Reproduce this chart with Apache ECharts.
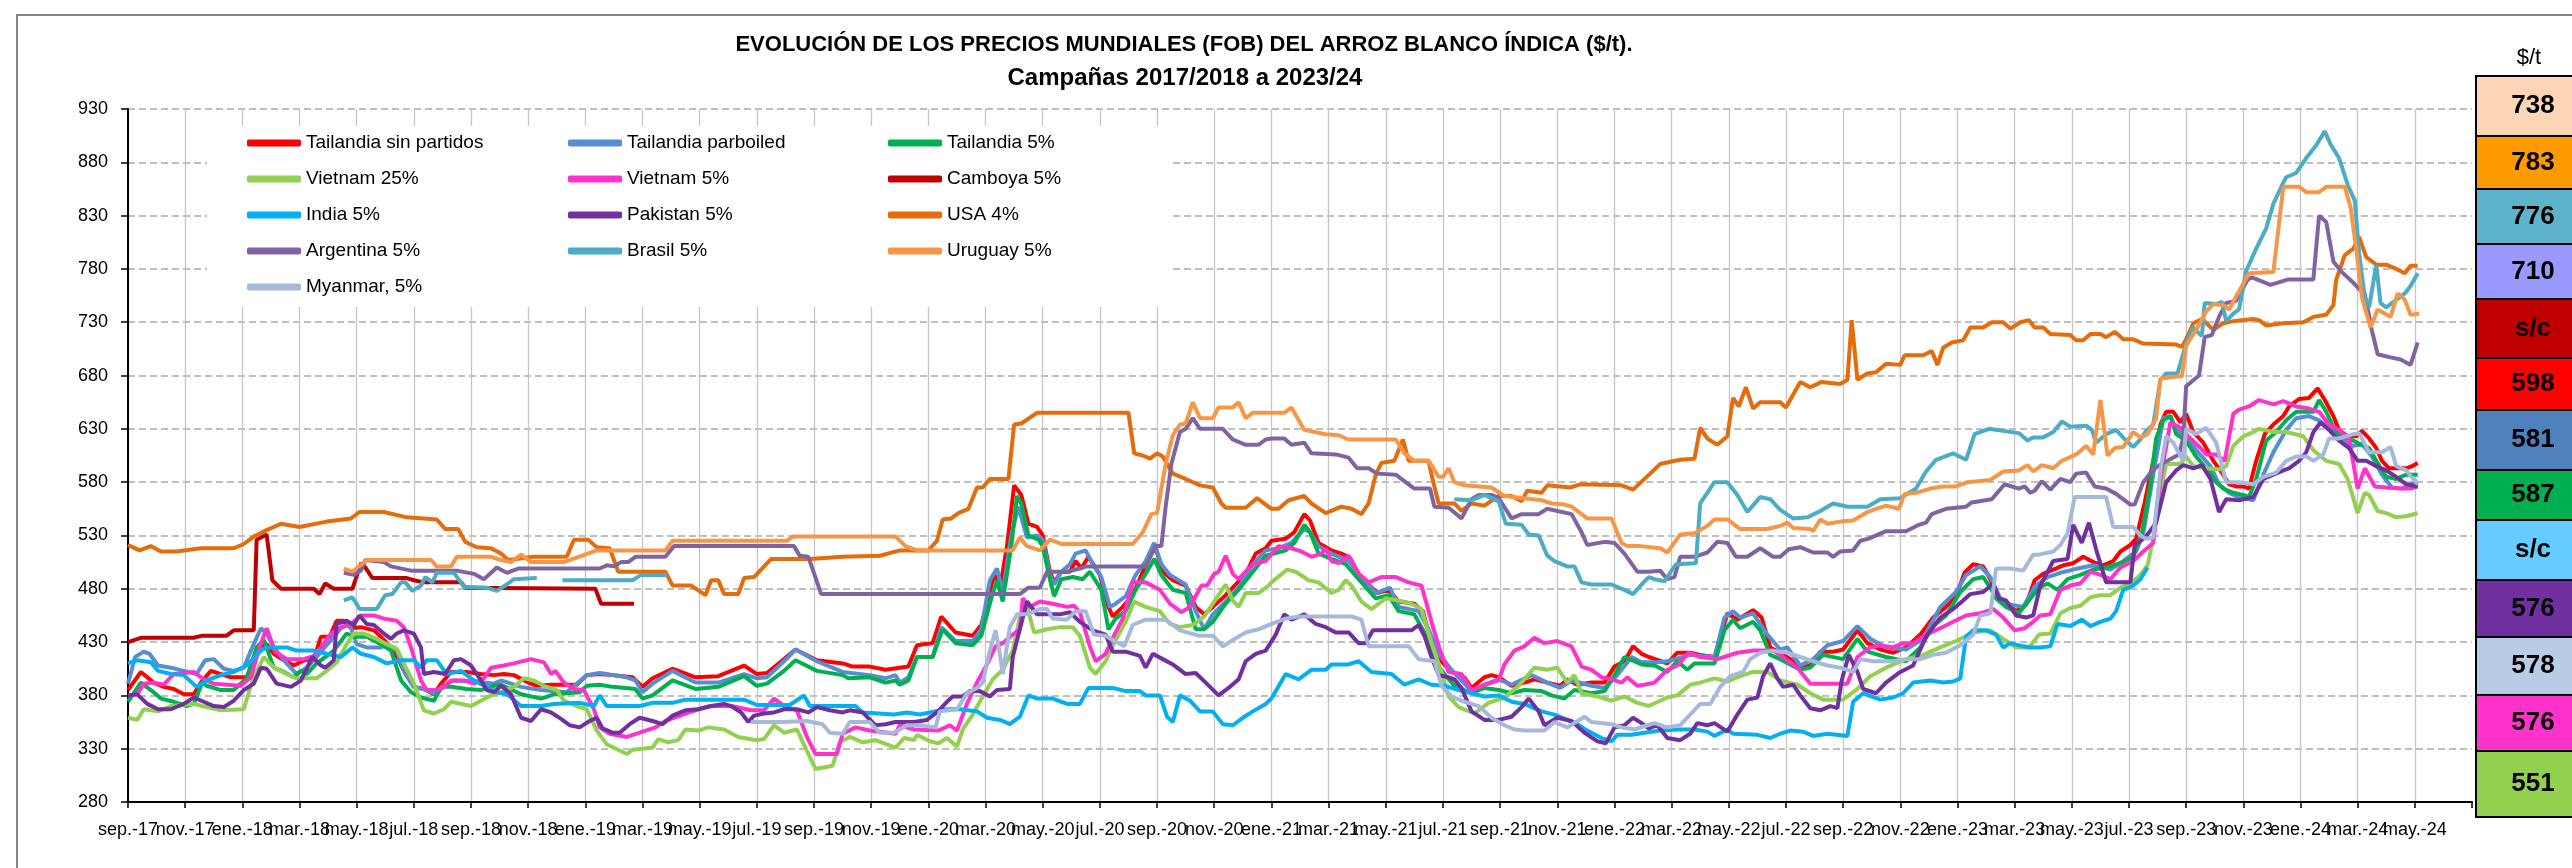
<!DOCTYPE html>
<html><head><meta charset="utf-8">
<script src="https://cdn.jsdelivr.net/npm/echarts/dist/echarts.min.js"></script>
<style>html,body{margin:0;padding:0;background:#fff}#c{width:2572px;height:868px}</style>
</head><body><div id="c"></div>
<script>
// x = half-month index counted from 1 Sep 2017 (2 per month)
const tickLabels = ['sep.-17','nov.-17',
 'ene.-18','mar.-18','may.-18','jul.-18','sep.-18','nov.-18',
 'ene.-19','mar.-19','may.-19','jul.-19','sep.-19','nov.-19',
 'ene.-20','mar.-20','may.-20','jul.-20','sep.-20','nov.-20',
 'ene.-21','mar.-21','may.-21','jul.-21','sep.-21','nov.-21',
 'ene.-22','mar.-22','may.-22','jul.-22','sep.-22','nov.-22',
 'ene.-23','mar.-23','may.-23','jul.-23','sep.-23','nov.-23',
 'ene.-24','mar.-24','may.-24'];

const seriesNames = ['Tailandia sin partidos','Tailandia parboiled','Tailandia 5%','Vietnam 25%','Vietnam 5%','Camboya 5%','India 5%','Pakistan 5%','USA 4%','Argentina 5%','Brasil 5%','Uruguay 5%','Myanmar, 5%'];
const seriesColors = ['#FF0000','#558ED5','#00B050','#92D050','#FF33CC','#C00000','#00B0F0','#7030A0','#E46C0A','#8064A2','#4BACC6','#F79646','#A6B9DB'];

const tailSinPartidos = [[0,385],[0.9,402],[1.8,392],[2.5,388],[3.2,386],[3.9,381],[4.6,381],[5.1,392],[5.8,403],[6.5,400],[7.2,397],[8.3,397],[8.8,413],[9.5,428],[9.7,428],[10.2,419],[10.9,413],[11.6,408],[12.3,413],[13,414],[13.5,435],[14.1,435],[14.6,450],[15.1,450],[15.6,443],[16.3,444],[17.2,441],[17.7,435],[18.4,425],[18.8,417],[19.3,403],[20,388],[20.7,386],[21.4,381],[21.9,391],[22.6,402],[23.7,402],[24.7,400],[25.6,399],[26.3,400],[27,399],[28,392],[28.6,389],[29.6,390],[31.4,390],[32.1,399],[33,400],[33.9,399],[35.3,397],[36,388],[36.7,396],[38.1,405],[39.7,397],[41.3,398],[42.2,403],[43.1,408],[44,400],[44.7,401],[45.9,414],[46.7,423],[48.2,413],[50,410],[50.7,407],[51.9,407],[53,404],[54,406],[54.6,407],[55.2,427],[56.3,429],[56.9,454],[57.9,439],[59.1,436],[59.7,446],[60.1,466],[60.6,494],[61,480],[61.5,520],[62,577],[62.5,568],[63,541],[63.6,538],[64,530],[64.5,496],[64.8,486],[65.3,496],[65.9,496],[66.3,506],[66.7,499],[67.2,510],[68,493],[68.6,463],[68.9,454],[69.6,463],[70.3,474],[71,496],[71.6,513],[71.9,518],[72.4,496],[73.1,488],[74,483],[74.7,463],[75.3,456],[75.9,463],[76.8,474],[77.5,484],[78.2,494],[78.9,513],[79.6,518],[80,525],[81,527],[81.6,533],[82.3,550],[82.7,544],[83.3,523],[84.2,516],[84.9,513],[85.5,509],[86.1,494],[86.8,484],[87.4,476],[88.2,479],[88.9,468],[90,466],[90.6,459],[91.2,429],[91.9,412],[92.6,402],[93.5,397],[94,387],[94.9,397],[95.4,399],[95.9,397],[96.8,389],[97.7,392],[98.4,395],[99.3,392],[100.2,389],[100.7,395],[101.4,390],[102.4,392],[103.3,392],[104,407],[104.7,412],[105.3,426],[105.9,419],[106.4,416],[107.7,410],[108.4,420],[109.3,420],[110,418],[111,416],[111.4,433],[111.9,457],[112.6,451],[113.7,460],[114.3,453],[114.9,425],[115.6,420],[116.3,414],[117,406],[117.7,408],[118.4,421],[119.3,421],[120,423],[121,441],[121.7,429],[122.6,423],[123.5,420],[124.4,425],[125.4,437],[126.3,453],[127.2,463],[127.9,473],[128.5,495],[129.1,503],[129.8,501],[130.3,489],[130.7,473],[131.4,467],[132.1,459],[132.8,465],[133.4,488],[134,494],[134.7,498],[135.4,502],[136.1,504],[136.8,510],[137.5,505],[138.2,502],[138.9,506],[139.4,515],[140.1,521],[140.5,527],[141.1,561],[141.7,600],[142.2,634],[142.6,646],[143.1,646],[143.6,636],[144,644],[144.5,627],[145.2,617],[145.9,600],[146.6,587],[147,578],[147.5,576],[148,576],[148.4,574],[148.9,600],[149.5,625],[150.1,634],[150.8,642],[151.2,651],[151.9,658],[152.6,659],[153.2,668],[153.7,657],[154.3,642],[154.7,629],[155.3,623],[155.9,623],[156.3,628],[156.8,621],[157.3,612],[157.7,600],[158.2,593],[158.8,593],[159.4,593],[159.8,595],[160.2,598]];

const tailParboiled = [[0,391],[0.5,416],[1.1,421],[1.5,419],[2.1,408],[3,406],[3.9,403],[4.8,400],[5.4,413],[6,414],[6.7,405],[7.4,403],[8.1,406],[8.6,422],[9.3,443],[9.7,438],[10.2,425],[11.1,410],[11.8,400],[12.5,406],[13.2,416],[14.2,432],[14.9,443],[15.5,447],[16,428],[16.7,425],[17.7,425],[18.1,428],[18.8,422],[19.3,403],[20,388],[20.9,385],[21.6,381],[22.1,389],[22.8,394],[24.4,393],[25.6,391],[26.1,394],[27.5,388],[28.9,385],[30.7,383],[32.1,399],[33,401],[34.9,397],[35.5,394],[36,383],[36.7,391],[38.1,403],[39.7,392],[41.3,392],[43.1,400],[44,396],[44.7,397],[45.9,412],[46.7,423],[48.2,412],[50,402],[51.9,399],[53,396],[53.7,399],[54,392],[54.6,397],[55.2,416],[56.3,416],[56.9,444],[57.9,431],[59.1,431],[59.7,442],[60.3,488],[60.8,499],[61.2,476],[61.8,530],[62.3,557],[62.9,528],[63.6,530],[64,526],[64.5,493],[64.8,484],[65.3,496],[65.9,503],[66.3,513],[67,516],[67.5,503],[68.1,491],[68.7,463],[69.1,466],[69.8,473],[70.5,493],[71.2,506],[71.8,523],[72.3,503],[72.9,493],[74,484],[74.7,459],[75.3,442],[75.9,456],[76.8,468],[77.7,481],[78.7,503],[79.6,516],[80.5,518],[81.4,523],[82.3,536],[82.7,533],[83.3,520],[84.2,513],[85.4,506],[86.1,494],[87.3,476],[88.3,481],[88.9,463],[90.3,459],[91,442],[91.7,419],[92.6,404],[94,384],[94.9,390],[95.9,395],[96.8,390],[98.2,399],[99.3,392],[100.2,387],[101,394],[102.4,389],[103.3,387],[104.2,399],[105.2,416],[105.9,411],[107,411],[107.7,412],[109.3,418],[111,416],[111.7,453],[112.3,459],[112.8,453],[113.7,457],[114.7,437],[115.6,423],[116.1,425],[117,408],[117.9,414],[118.9,427],[120,431],[121,445],[121.9,433],[123,425],[124.4,423],[125.6,433],[126.8,463],[127.9,477],[128.6,493],[129.6,501],[130.3,491],[131,471],[131.7,465],[132.6,463],[133.4,482],[134.3,491],[135.2,495],[136.1,498],[137.5,502],[138.7,498],[139.6,506],[140.5,515],[141,532],[141.7,587],[142.4,640],[142.9,642],[143.3,629],[144,623],[144.7,610],[145.7,595],[146.3,578],[147,570],[147.7,566],[148.7,563],[149.4,587],[150.1,608],[151,629],[151.7,640],[152.6,642],[153.3,638],[154,631],[154.7,621],[155.7,614],[156.3,616],[157,604],[157.7,587],[158.4,575],[159.1,574],[160.2,581]];

const tail5 = [[0,374],[0.9,392],[1.6,385],[2.3,377],[3.2,374],[4.1,370],[4.6,372],[5.2,392],[5.5,389],[6.5,385],[7.4,385],[8.3,396],[9,425],[9.5,432],[10.2,406],[10.9,402],[11.6,397],[12.1,403],[12.5,400],[13.2,410],[14.4,422],[15.3,438],[15.8,435],[16.7,435],[17.7,428],[18.4,422],[19.1,394],[19.8,383],[20.5,378],[21.4,375],[21.9,388],[22.6,388],[23.7,386],[24.7,385],[25.6,389],[26.1,390],[27.5,381],[28.9,377],[29.8,381],[31.6,383],[32.1,389],[33,390],[33.9,388],[35.5,386],[36,377],[36.7,380],[38.1,394],[39.7,386],[41.3,388],[43.1,398],[44,389],[44.7,391],[45.9,403],[46.7,413],[48.2,403],[50,399],[50.4,396],[51.9,397],[53,392],[53.7,394],[54,390],[54.6,394],[55.2,416],[56.3,416],[57,442],[57.9,429],[59.1,427],[59.7,436],[60.4,471],[60.8,488],[61.2,468],[61.8,520],[62.2,567],[62.5,560],[63,530],[63.7,526],[64,520],[64.5,489],[64.8,473],[65.3,489],[66.1,491],[66.8,489],[67.3,496],[68.1,479],[68.6,442],[69.1,452],[69.8,459],[70.5,479],[71.2,494],[71.8,508],[72.3,493],[73.1,479],[74,476],[74.7,442],[75.3,442],[75.9,449],[76.8,466],[77.7,479],[78.7,496],[79.6,511],[81,516],[81.6,523],[82.3,540],[82.7,533],[83.3,513],[84.2,508],[85.2,503],[86.1,489],[87.3,471],[88.2,474],[88.9,459],[90,456],[90.7,439],[91.4,412],[92.1,400],[92.8,389],[94,382],[94.9,387],[95.9,385],[96.8,382],[97.7,385],[98.9,384],[99.6,380],[100.5,377],[101.2,385],[102.4,382],[103.3,384],[104,399],[104.7,416],[105.9,409],[106.8,408],[107.7,402],[108.4,412],[109.1,404],[109.6,410],[111,410],[111.7,441],[112.3,451],[112.8,443],[113.7,449],[114.2,441],[114.9,418],[115.6,414],[117,404],[117.7,406],[118.6,418],[120,414],[121,433],[121.7,421],[123,416],[124.4,412],[125.4,425],[126.3,445],[127.2,455],[128.2,477],[129.1,489],[129.8,491],[130.3,481],[130.7,471],[131.4,463],[132.3,457],[133,469],[133.7,481],[134.3,485],[135,479],[135.7,489],[136.6,493],[137.5,498],[138.4,500],[139.4,504],[140.3,510],[140.9,532],[141.5,578],[141.9,621],[142.4,638],[142.9,642],[143.3,625],[144,619],[144.7,604],[145.4,593],[146.1,580],[146.6,574],[147.3,570],[148,568],[148.4,566],[148.9,583],[149.6,619],[150.3,627],[151,638],[151.7,646],[152.9,646],[153.3,657],[153.8,646],[154.4,629],[154.9,623],[155.7,619],[156.1,616],[156.8,612],[157.3,600],[158,585],[158.7,583],[159.4,587],[160.2,587]];

const vietnam25 = [[0,359],[0.65,357],[1.1,367],[2.1,365],[3,370],[4.6,372],[5.2,370],[6.5,366],[8.1,367],[8.7,394],[9.5,416],[10.2,406],[11.1,400],[11.8,396],[13.2,396],[13.9,403],[14.6,411],[15.3,428],[15.8,438],[16.5,438],[17.4,433],[18.1,428],[18.8,424],[19.3,410],[20,391],[20.7,366],[21.4,363],[22.1,367],[22.6,374],[24,370],[24.7,375],[25.4,380],[26.1,383],[27,388],[27.7,396],[28.4,394],[29.1,389],[30,385],[30.5,375],[31.4,370],[32.1,367],[32.8,347],[33.5,334],[34.9,325],[35.3,329],[36.7,331],[37.1,339],[37.8,336],[38.5,338],[39,348],[39.9,347],[40.6,350],[41.7,348],[42.7,341],[44,338],[44.5,339],[45.2,352],[45.9,345],[46.8,348],[47.5,328],[48.1,311],[49.3,314],[49.8,336],[50.5,341],[51.4,336],[52.3,338],[53.7,331],[54.3,340],[55,338],[55.2,343],[56.1,337],[56.7,335],[57.3,340],[58,332],[58.4,348],[59.1,362],[59.8,379],[60.5,395],[61.2,404],[61.9,422],[62.4,453],[62.9,463],[63.4,439],[64.3,442],[65.2,444],[66.1,444],[66.6,436],[67.3,406],[67.7,400],[68.4,412],[69.1,432],[69.8,449],[70.4,468],[71.2,463],[72.2,459],[72.9,447],[73.6,444],[74.5,446],[75.3,454],[75.9,466],[76.8,484],[77.3,469],[77.7,463],[78.2,476],[79.1,476],[79.8,483],[80,486],[81.1,498],[81.7,496],[82.6,488],[83.3,486],[84.2,476],[84.7,479],[85.2,488],[85.6,483],[86.3,468],[87,461],[88,471],[88.9,469],[89.8,466],[90.5,461],[91.2,429],[91.9,402],[92.4,379],[93.1,369],[94.2,363],[95.2,373],[96.3,378],[97.3,389],[98.4,406],[99.3,404],[100,406],[100.7,392],[101.2,399],[101.7,382],[102.8,379],[103.8,375],[104.7,379],[105.6,373],[106.4,370],[107.7,378],[108.4,380],[109.3,390],[110,392],[111,396],[111.9,393],[112.8,398],[113.7,402],[114.7,402],[115.6,394],[116.8,390],[117.7,382],[118.6,376],[120,376],[121,386],[121.9,398],[123,406],[124.4,414],[125.6,418],[126.8,425],[127.9,431],[129.1,439],[130.3,441],[131.2,433],[132.1,425],[133,425],[133.7,437],[134.5,438],[135.2,457],[135.9,462],[136.6,464],[137.3,472],[138,474],[138.7,474],[139.4,481],[140.1,485],[140.8,493],[141.3,502],[141.7,527],[142.2,570],[142.6,597],[143.6,597],[144,604],[144.5,595],[145.4,593],[146.3,592],[146.8,595],[147.3,614],[148,623],[148.7,627],[149.1,630],[150.1,627],[151,627],[152.2,623],[152.9,610],[153.8,600],[154.7,597],[155.3,583],[156,551],[156.5,570],[156.8,568],[157.4,553],[158,551],[158.7,547],[159.4,548],[160.2,551]];

const vietnam5 = [[0,380],[0.65,381],[1.1,391],[1.8,392],[2.5,390],[3.2,400],[4.6,402],[5.2,396],[6,391],[7.9,389],[8.6,397],[9.2,425],[9.7,443],[10.3,421],[11.1,414],[12.3,414],[13,417],[13.5,425],[14.2,438],[14.9,444],[15.6,447],[16.3,455],[17.2,455],[17.9,452],[18.8,450],[19.3,444],[19.8,425],[20.5,394],[20.9,385],[21.6,385],[22.1,388],[22.6,394],[23.5,394],[24.2,391],[24.9,396],[25.4,406],[26.3,408],[27,410],[28.2,414],[29.1,411],[29.6,400],[29.9,403],[30.5,392],[31.2,386],[31.9,385],[32.6,367],[33,350],[33.7,344],[34.9,341],[35.8,345],[36.9,350],[37.6,356],[39,363],[39.9,367],[40.8,370],[42.2,370],[43.6,366],[44.5,366],[45.2,377],[45.9,370],[46.8,366],[47.5,341],[48.1,325],[49.6,325],[50,344],[50.9,350],[51.9,347],[53.7,344],[54,352],[55,348],[56.7,347],[57.5,352],[58,347],[58.7,372],[59.4,392],[60.1,409],[60.7,426],[61.2,429],[61.8,436],[62.4,442],[62.6,471],[63.1,463],[63.8,468],[64.7,466],[65.7,463],[66.2,464],[66.6,458],[67.3,426],[67.7,412],[68.4,419],[68.9,434],[69.6,452],[70.3,486],[71.2,486],[72.2,479],[72.9,466],[73.7,458],[74.3,463],[75.1,483],[75.5,483],[76,494],[76.3,496],[76.8,511],[77.3,494],[77.7,489],[78.7,503],[79.6,506],[80.5,520],[81.4,518],[82.1,515],[82.8,510],[83.5,513],[83.8,518],[84.2,506],[84.7,504],[85.4,511],[86.1,494],[86.8,486],[87.7,491],[88.7,491],[89.6,486],[90.5,483],[91.2,449],[91.8,422],[92.4,402],[93.3,400],[94,385],[94.9,390],[95.9,394],[96.3,409],[97,422],[97.7,426],[98.4,434],[99.1,429],[100,431],[101,426],[101.7,407],[102.4,404],[103.1,397],[103.8,395],[104.5,392],[104.9,397],[105.6,389],[106.1,390],[106.8,392],[107.7,404],[108.4,408],[109.2,420],[110,416],[111.2,414],[112.6,420],[113.7,422],[115.1,422],[115.8,416],[116.8,406],[117.7,391],[120.3,391],[121,416],[121.9,425],[122.6,427],[123.5,425],[124.2,429],[124.9,429],[125.8,437],[126.8,443],[127.7,449],[128.6,455],[129.6,457],[130.5,461],[131.2,453],[132,441],[132.7,443],[133.3,449],[133.8,455],[134.5,456],[135.2,479],[135.9,483],[136.6,485],[137.3,496],[138,493],[138.7,489],[139.4,500],[140.3,506],[141,515],[141.7,523],[142.2,583],[142.9,636],[143.6,631],[144.3,621],[145,612],[145.4,606],[146.1,606],[146.7,600],[147.3,644],[147.7,648],[148.4,651],[149.1,657],[150.1,653],[150.8,656],[151.7,651],[152.6,649],[153.3,646],[154,634],[154.7,629],[155.4,621],[156,574],[156.5,593],[157.2,576],[158,575],[158.9,574],[159.7,574],[160.2,576]];

const camboya5 = [[0,430],[0.9,434],[4.6,434],[5.2,436],[6.9,436],[7.4,441],[8.8,441],[9.0,526],[9.7,531],[10.1,488],[10.7,480],[13,480],[13.4,475],[13.8,485],[14.4,480],[15.7,480],[16.3,504],[16.6,500],[17.1,490],[19.5,490],[20,488],[20.7,486],[23.3,486],[23.6,481],[32.7,480],[33.1,466],[35.4,466]];

const india5 = [[0,410],[0.65,413],[1.6,411],[2.1,403],[3,400],[3.9,399],[4.8,388],[5.5,394],[6.5,399],[7.4,402],[8.3,408],[9.3,422],[9.7,425],[11.1,425],[11.8,422],[13,422],[13.9,419],[14.9,416],[15.7,425],[16.3,419],[17.2,416],[18.1,410],[19.1,413],[20,413],[20.5,406],[20.9,413],[21.6,413],[22.3,400],[23.3,403],[24.2,394],[25.1,388],[25.8,383],[26.5,381],[26.8,378],[27.5,370],[28.9,370],[29.8,372],[31.6,373],[32.6,370],[33,380],[33.5,370],[35.8,370],[36.7,373],[38.1,373],[39,376],[43.1,376],[44,371],[46.3,371],[47.3,380],[47.7,370],[50.9,370],[51.4,364],[53.6,362],[54.5,364],[55.4,362],[56.1,364],[57.3,367],[58.2,367],[59.4,365],[60.1,359],[61,357],[61.7,353],[62.4,360],[63,380],[63.6,377],[64.7,377],[65.7,372],[66.6,372],[67.2,387],[68.9,387],[69.8,384],[70.8,384],[71.2,380],[72.2,380],[72.7,360],[73.1,355],[73.6,380],[74.3,375],[75,365],[75.9,365],[76.6,353],[77.3,352],[78,359],[78.7,365],[79.6,372],[80,377],[81,400],[81.9,395],[82.8,404],[83.8,404],[84.2,409],[85.4,409],[86.1,412],[87,402],[88.4,400],[89.3,390],[90.3,395],[91.2,390],[92.1,389],[93.1,385],[94,382],[94.9,379],[95.9,380],[96.8,374],[97.7,372],[98.9,365],[99.8,362],[100.7,357],[101.4,353],[102.1,347],[103.1,340],[103.8,337],[104.2,343],[105.2,343],[106.1,345],[107.2,347],[108.4,348],[109.6,348],[110.5,346],[111,342],[111.9,348],[112.3,344],[114,343],[114.9,340],[115.6,344],[116.3,347],[117.2,346],[117.9,342],[118.9,344],[120.3,342],[120.7,374],[121.4,382],[122.6,376],[123.5,378],[124.2,382],[124.9,392],[126.1,394],[127,392],[127.7,393],[128.2,396],[128.6,435],[129.1,441],[130,441],[130.7,437],[131.2,425],[131.7,429],[132.6,426],[133.1,425],[133.8,425],[134.5,426],[135,447],[135.9,445],[136.7,451],[137.3,445],[138,449],[138.7,452],[139.1,459],[139.6,479],[140.3,483],[140.8,489],[141.3,500]];

const pakistan5 = [[0,380],[0.65,381],[1.35,372],[2.1,367],[3,367],[3.9,372],[4.6,378],[5.3,374],[6,370],[6.7,369],[7.4,375],[8.1,385],[8.8,391],[9.3,406],[9.7,405],[10.4,391],[11.4,388],[12.1,394],[12.9,416],[13.5,408],[13.8,406],[14.4,413],[14.6,447],[15.3,450],[15.8,446],[16.2,455],[16.7,447],[17.2,446],[17.9,438],[18.4,433],[18.8,438],[19.3,441],[20,438],[20.5,425],[20.7,400],[21.4,402],[22.2,400],[22.8,413],[23.3,414],[24,408],[24.7,394],[25.1,385],[25.6,383],[26.1,389],[26.8,381],[27.5,359],[28.2,356],[28.9,367],[29.6,364],[30.3,358],[30.9,352],[31.6,350],[32.3,356],[32.8,359],[33.2,349],[33.9,345],[34.4,345],[35.1,353],[35.8,359],[36.7,356],[37.4,353],[38.1,361],[39,366],[39.9,367],[40.8,370],[41.7,372],[42.2,370],[42.9,364],[43.4,355],[43.8,361],[44.5,363],[45.2,364],[45.9,367],[46.8,367],[47.6,364],[48.2,369],[49.1,366],[50,364],[50.5,366],[51.4,364],[52.3,352],[53,353],[53.7,355],[55,355],[55.9,357],[56.6,364],[57.3,374],[57.7,379],[58.4,379],[58.9,384],[59.6,384],[60.3,379],[60.8,385],[61.7,386],[61.9,416],[62.4,442],[62.9,468],[63.6,456],[65.2,456],[65.9,458],[66.6,449],[67.5,441],[68.4,437],[68.9,421],[69.8,421],[70.8,417],[71.2,406],[71.7,419],[72.4,414],[73.1,409],[74,400],[74.7,401],[75.4,392],[76.3,380],[77,387],[77.7,395],[78.2,412],[78.9,419],[79.6,422],[80.3,437],[80.9,456],[81.4,451],[82.3,456],[83.1,447],[83.8,444],[84.5,439],[85.4,439],[86.1,429],[86.6,429],[87.1,441],[89.8,441],[90.3,446],[90.7,436],[91.2,416],[91.7,399],[92.4,397],[92.8,395],[93.3,387],[94,365],[94.9,357],[95.9,357],[96.8,360],[97.5,369],[98,377],[98.7,365],[99.1,352],[100,359],[101,356],[101.9,345],[102.8,337],[103.4,335],[104,350],[104.7,352],[105.3,359],[105.9,354],[106.4,349],[107,352],[107.7,340],[108.6,338],[109.3,344],[109.8,354],[110.5,352],[111,354],[111.9,346],[112.6,362],[113.3,376],[114,378],[114.4,398],[114.9,410],[115.4,396],[115.8,388],[116.5,390],[117,380],[117.7,368],[118.4,366],[119.1,370],[119.6,368],[119.9,394],[120.4,418],[121,402],[121.4,386],[122.3,382],[123,392],[124,402],[124.9,408],[125.8,435],[126.8,453],[127.7,461],[128.4,469],[128.9,475],[129.8,477],[130.5,485],[130.9,471],[131.4,469],[132.1,455],[132.8,453],[133.3,455],[133.8,483],[134.7,506],[135.7,508],[136.1,540],[136.7,523],[137.2,542],[137.7,517],[138.4,486],[140.1,486],[140.4,521],[141.2,529],[141.9,542],[142.6,580],[143.3,591],[143.8,596],[144.5,593],[145.1,596],[145.7,583],[146.3,552],[146.8,564],[147.7,563],[148.7,566],[149.4,583],[150.1,587],[150.8,591],[151.2,593],[151.9,600],[152.4,608],[152.9,627],[153.4,636],[154,629],[154.7,619],[155.4,612],[156,600],[156.6,600],[157.3,595],[158,591],[158.7,585],[159.4,578],[160.2,576]];

const usa4 = [[0,521],[0.8,516],[1.6,520],[2.3,515],[3.4,515],[5.1,518],[7.4,518],[8.1,522],[8.8,529],[9.7,535],[10.7,541],[12,538],[13.9,543],[15.6,546],[16.2,552],[17.9,552],[19.5,547],[21.6,545],[22.2,536],[23.1,536],[23.6,524],[24.4,519],[25.4,518],[26.1,513],[26.6,507],[28.4,510],[30.7,510],[31.2,526],[32.2,526],[32.8,519],[33.7,518],[34.3,496],[37.6,496],[38.1,483],[39.4,483],[40.4,474],[40.8,488],[41.3,488],[41.7,475],[42.7,475],[43.1,490],[43.8,491],[45,508],[47.7,508],[50,510],[52.6,511],[54,516],[56,516],[56.6,525],[57,545],[57.6,546],[58.1,551],[58.8,555],[59.4,575],[59.8,575],[60.3,583],[61.6,583],[62,634],[62.5,635],[63.6,645],[70,645],[70.4,607],[71,605],[71.5,602],[72,607],[72.4,604],[73.1,588],[74,583],[75,577],[75.9,575],[76.5,560],[76.8,556],[78.2,556],[79,565],[80,555],[80.5,555],[81.2,563],[82.3,567],[82.8,560],[83.8,551],[84.9,557],[85.6,555],[86.3,550],[86.8,560],[87.3,587],[87.7,598],[88.6,600],[89.2,620],[89.6,600],[91,600],[91.2,587],[91.7,560],[92.8,560],[93.3,553],[94,560],[94.9,558],[95.9,567],[96.8,567],[97.5,562],[97.9,572],[98.9,570],[99.3,577],[100.9,575],[101.6,578],[104.5,577],[105.3,573],[106.5,588],[107.2,597],[108.6,601],[109.6,602],[110,631],[110.5,621],[111.2,615],[111.9,623],[112.3,659],[112.7,651],[113.2,669],[113.7,649],[114.2,655],[115.6,655],[116,650],[117,674],[117.7,669],[118.5,674],[119.8,672],[120.3,676],[120.6,732],[121,676],[121.7,682],[122.3,683],[123,691],[124,690],[124.3,699],[125.6,699],[126.2,703],[126.6,690],[127,706],[127.6,711],[128.4,713],[128.9,725],[129.8,725],[130.4,730],[131.2,730],[131.7,724],[132.4,730],[133,732],[133.4,725],[134,725],[134.5,719],[135.9,718],[136.3,713],[136.8,713],[137.3,719],[138,719],[138.4,716],[139,721],[139.6,714],[140.3,714],[141,710],[143.3,709],[143.7,707],[144,714],[144.5,729],[145.1,733],[145.9,723],[146.6,729],[147.3,731],[148.7,733],[149.1,732],[149.6,727],[150.8,729],[152.2,730],[152.9,735],[153.8,737],[154.3,746],[154.5,770],[155.1,793],[155.7,799],[156.1,810],[156.6,791],[157.3,784],[158,784],[158.7,780],[159.3,776],[159.7,783],[160.2,783]];

const argentina5 = [[15.1,495],[15.8,493],[16.3,497],[16.6,507],[17.9,505],[18.4,501],[19.8,497],[23,497],[24.2,494],[24.9,489],[25.4,495],[25.8,500],[26.5,495],[27.3,499],[33,499],[33.5,502],[34,501],[34.5,505],[35,505],[35.5,510],[37.6,510],[38.2,520],[46.6,520],[47,511],[47.6,510],[48.5,475],[62.4,475],[63,481],[63.8,481],[64.3,496],[65.7,496],[66.6,499],[67,501],[71.2,501],[71.9,520],[72.3,520],[72.6,557],[73,597],[73.6,627],[74,630],[74.5,640],[75,630],[76.6,630],[77.3,620],[78.2,615],[79.1,615],[79.6,620],[80,621],[80.9,621],[81.4,615],[82.3,617],[82.8,607],[84.5,606],[85.4,603],[86,593],[86.8,593],[87.4,588],[88.7,587],[90,574],[91.1,574],[91.4,557],[92.4,556],[93.3,546],[94,564],[94.5,568],[95.4,568],[95.9,565],[96.8,546],[97.5,550],[98.7,550],[99.3,555],[101,550],[101.7,533],[102.1,521],[103.3,524],[104,523],[104.7,513],[105.6,496],[106.4,496],[107.2,497],[107.7,489],[108.2,491],[108.6,510],[109.6,510],[110.5,514],[111.2,524],[111.9,523],[112.5,510],[113.3,510],[114.2,518],[115.1,510],[115.6,510],[116.2,517],[117,519],[117.9,514],[118.9,514],[119.3,510],[119.8,515],[120.7,516],[121.2,525],[121.8,527],[123,534],[124.4,534],[125.3,540],[125.8,542],[126.2,550],[127.2,555],[128.6,557],[129,561],[130.4,564],[131.3,578],[132.3,574],[132.7,576],[133.1,570],[133.4,572],[133.9,581],[134.5,573],[135.2,583],[135.9,580],[136.3,588],[137,589],[137.6,576],[138.4,574],[139.1,569],[140.1,559],[140.4,559],[141,580],[141.7,592],[142.4,598],[143.5,606],[143.8,622],[144,670],[144.9,680],[145.3,716],[145.8,718],[146.3,735],[146.8,748],[147.5,750],[148.3,770],[148.6,772],[149.9,765],[151.1,770],[152.9,770],[153.3,830],[153.8,824],[154.3,787],[154.9,777],[155.7,767],[156.5,756],[157,722],[157.4,700],[158.3,697],[159,695],[159.7,690],[160.2,711]];

const brasil5 = [[15.1,469],[15.7,472],[16.2,461],[17.4,461],[18,474],[18.5,475],[19.1,486],[19.4,486],[19.9,478],[20.5,483],[20.8,491],[21.3,486],[21.6,495],[22.8,495],[23.5,482],[25.1,481],[25.8,478],[26.5,484],[27,489],[28.6,490],[29.5,'-'],[30.4,488],[35.3,488],[35.9,493],[37.7,493],[60,'-'],[92.8,564],[94,563],[94.9,568],[95.9,562],[96.4,541],[97.5,540],[98,531],[98.7,530],[99.3,511],[99.8,506],[100.7,501],[101.2,501],[101.7,486],[102.4,484],[103.8,484],[104.7,479],[105.3,475],[105.9,484],[106.4,491],[106.8,489],[107.5,487],[108.3,503],[109.7,504],[110,560],[111,580],[111.9,580],[112.6,568],[113.3,552],[114.2,566],[114.9,564],[115.6,554],[116.5,546],[117.5,547],[118.4,553],[119.3,560],[120.3,557],[121.7,557],[122.6,564],[124,565],[125.1,574],[125.8,590],[126.5,601],[127.7,607],[128.6,601],[129.2,625],[130.2,630],[132.3,626],[132.9,619],[133.3,622],[134,622],[134.7,627],[135.3,637],[135.9,632],[137,633],[137.4,629],[137.7,617],[138.4,625],[139.1,629],[139.8,619],[140.3,613],[140.8,620],[141.2,628],[141.7,634],[142.2,676],[142.6,682],[143.4,682],[144,710],[144.5,725],[145.1,717],[145.3,748],[146.1,747],[146.5,749],[146.8,731],[147.3,738],[147.7,742],[148.2,778],[148.9,799],[149.6,818],[150.1,841],[150.8,861],[151,866],[151.7,870],[152.4,884],[153.1,896],[153.7,909],[154.1,897],[154.7,884],[155.3,859],[155.8,844],[156.1,795],[156.5,753],[156.8,744],[157.3,784],[157.6,748],[158,744],[158.6,750],[159.3,757],[159.7,764],[160.2,776]];

const uruguay5 = [[15.1,499],[15.7,496],[16.7,507],[21.2,507],[21.6,501],[22.6,501],[23,510],[25.4,510],[26.1,507],[26.8,505],[27.5,512],[28.2,505],[30.5,505],[32.8,516],[37.6,516],[38.1,525],[46.1,525],[46.5,529],[53.7,529],[54.4,520],[55.2,516],[61.9,516],[62.4,528],[62.9,520],[63.8,516],[64.5,526],[65.3,522],[70.3,522],[71,533],[71.6,550],[72,551],[72.6,597],[73.1,624],[73.6,634],[74,635],[74.5,655],[75,640],[75.9,640],[76.3,650],[77.3,650],[77.7,655],[78.2,640],[78.7,645],[80.9,645],[81.4,650],[82.3,629],[83.8,625],[84.7,624],[85.4,620],[88.7,620],[89.3,607],[90,600],[91,600],[91.7,585],[92,585],[92.4,593],[92.8,580],[93.5,577],[95.4,575],[96.3,567],[98.9,563],[99.6,560],[100.5,559],[101,557],[102.1,546],[103.8,546],[104.5,523],[104.9,520],[105.8,520],[107.2,518],[107.7,514],[108.6,531],[109.6,532],[110.5,539],[111,545],[111.9,545],[112.8,536],[114.7,536],[115.6,539],[116.1,542],[116.5,537],[117.7,536],[117.9,534],[118.4,545],[118.9,541],[119.8,543],[120.7,544],[121.7,552],[122.3,555],[123,558],[123.9,555],[124.3,569],[125.1,570],[126.1,574],[127,576],[127.9,576],[128.7,580],[130.3,582],[131.2,590],[132.3,591],[132.9,596],[133.3,590],[133.9,596],[134.7,593],[135.3,600],[136.3,606],[137,614],[137.5,606],[138,657],[138.5,605],[139,612],[139.6,613],[140.3,627],[140.8,622],[141.3,625],[141.9,640],[142.2,677],[143.3,679],[143.7,679],[144,708],[144.7,723],[145.4,740],[145.9,747],[146.6,746],[147,742],[147.7,759],[148.4,776],[150.1,777],[150.8,857],[151.9,857],[152.4,852],[153.3,852],[153.8,857],[155.1,857],[155.5,838],[155.9,799],[156.3,753],[156.9,725],[157.4,742],[158.3,735],[158.8,757],[159.3,751],[159.7,737],[160.3,738]];

const myanmar5 = [[43.6,355],[45.7,355],[47.5,356],[48.6,353],[49.1,345],[50,344],[50.5,355],[51.9,355],[52.6,345],[53.6,345],[54.5,352],[55.4,352],[56.5,350],[56.8,365],[58,367],[58.7,382],[59.4,387],[59.8,392],[60.3,422],[60.7,441],[61,419],[61.2,400],[61.7,444],[62.2,456],[62.9,456],[63.8,461],[64.3,461],[64.7,452],[65.7,451],[66.3,459],[67,459],[67.6,437],[68.4,436],[68.9,432],[69.7,426],[70.3,446],[71.2,451],[72.6,451],[73.6,441],[74.9,436],[75.9,436],[76.6,426],[77.3,432],[78.2,439],[79.1,442],[80,447],[81,452],[81.9,454],[85.6,454],[86.3,451],[86.8,426],[89.6,426],[90.3,414],[91.4,412],[91.9,389],[92.6,379],[93.5,374],[94.5,370],[95.4,359],[96.3,352],[97,348],[97.7,347],[99.1,347],[99.8,355],[100.7,350],[101.9,360],[102.4,355],[103.8,353],[104.5,350],[105.4,348],[106.3,352],[106.8,354],[107.7,350],[108.6,352],[109.3,362],[110,372],[110.7,372],[111.4,388],[112.1,398],[113,402],[113.5,414],[114.2,420],[115.1,422],[116.1,420],[117,416],[117.9,412],[118.9,408],[119.8,406],[120.7,402],[121.2,414],[122.1,412],[123.5,412],[124.4,414],[125.4,414],[126.3,418],[127.2,420],[128.2,427],[129.1,437],[129.6,455],[130.3,457],[130.7,499],[131.7,499],[132.6,497],[133.3,512],[133.7,512],[134.7,515],[135.2,521],[135.7,532],[136.2,566],[138.4,566],[138.9,538],[140.3,538],[140.8,530],[141.2,527],[141.7,528],[142.2,591],[142.6,623],[143.1,617],[143.8,600],[144,630],[144.7,625],[145.4,631],[146.1,617],[146.8,580],[147.7,580],[148.7,578],[149.4,585],[150.3,589],[151,600],[151.7,604],[152.4,604],[152.9,600],[153.6,606],[154,621],[154.7,621],[155.7,625],[156.1,626],[156.8,608],[157.7,608],[158.3,613],[158.7,595],[159.4,591],[160.2,578]];

const seriesData = [tailSinPartidos, tailParboiled, tail5, vietnam25, vietnam5, camboya5, india5, pakistan5, usa4, argentina5, brasil5, uruguay5, myanmar5];

// latest-price panel ($/t)
const boxValues = ['738','783','776','710','s/c','598','581','587','s/c','576','578','576','551'];
const boxColors = ['#FBD5B5','#FF9A00','#5EB3CB','#9999FF','#C00000','#FF0000','#4F81BD','#00B050','#66CCFF','#7030A0','#B8CCE4','#FF33CC','#92D050'];
const boxEdges = [76,136,189,244,299,358,410,470,520,580,637,695,751,817];

const FONT = "'Liberation Sans', Arial, sans-serif";
const chart = echarts.init(document.getElementById('c'), null, {renderer: 'canvas'});

const legendCols = [
  {left: 247, names: [0,3,6,9,12]},
  {left: 568, names: [1,4,7,10]},
  {left: 888, names: [2,5,8,11]}
];

const graphics = [
  {type:'rect', shape:{x:17, y:15, width:2700, height:1000}, style:{fill:'none', stroke:'#868686', lineWidth:2}, z:0},
  {type:'rect', shape:{x:207, y:126, width:963, height:181}, style:{fill:'#ffffff'}, z:1},
  {type:'text', x:1184, y:45, style:{text:'EVOLUCIÓN DE LOS PRECIOS MUNDIALES (FOB) DEL ARROZ BLANCO ÍNDICA ($/t).', font:'bold 22px ' + FONT, fill:'#000', textAlign:'center', textVerticalAlign:'middle'}, z:5},
  {type:'text', x:1185, y:78, style:{text:'Campañas 2017/2018 a 2023/24', font:'bold 24px ' + FONT, fill:'#000', textAlign:'center', textVerticalAlign:'middle'}, z:5},
  {type:'text', x:2529, y:58, style:{text:'$/t', font:'22px ' + FONT, fill:'#000', textAlign:'center', textVerticalAlign:'middle'}, z:5}
];
for (let i = 0; i < boxValues.length; i++) {
  const y0 = boxEdges[i], y1 = boxEdges[i+1];
  graphics.push({type:'rect', shape:{x:2476, y:y0, width:120, height:y1-y0}, style:{fill:boxColors[i], stroke:'#000', lineWidth:2}, z:5});
  graphics.push({type:'text', x:2533, y:(y0+y1)/2, style:{text:boxValues[i], font:'bold 26px ' + FONT, fill:'#000', textAlign:'center', textVerticalAlign:'middle'}, z:6});
}

const option = {
  backgroundColor: '#ffffff',
  animation: false,
  textStyle: {fontFamily: FONT},
  grid: {left: 128, right: 100, top: 109, bottom: 66, containLabel: false},
  legend: legendCols.map(c => ({
    orient: 'vertical', left: c.left, top: 133, padding: 0, itemGap: 16,
    itemWidth: 54, itemHeight: 7, icon: 'roundRect', selectedMode: false,
    itemStyle: {borderWidth: 0},
    textStyle: {fontSize: 19, lineHeight: 20, color: '#000', fontFamily: FONT},
    data: c.names.map(i => seriesNames[i])
  })),
  xAxis: [{
    type: 'value', min: 0, max: 164, interval: 4, position: 'bottom',
    axisLine: {show: true, lineStyle: {color: '#000', width: 2}},
    axisTick: {show: true, length: 6, lineStyle: {color: '#000', width: 1.5}},
    axisLabel: {show: false},
    splitLine: {show: true, showMaxLine: false, lineStyle: {color: '#C6C6C6', width: 1.3}}
  }, {
    // label-only axis: one category per two-month tick of the value axis
    type: 'category', position: 'bottom', boundaryGap: false,
    data: tickLabels.concat(['']),
    axisLine: {show: false}, axisTick: {show: false}, splitLine: {show: false},
    axisLabel: {interval: 0, fontSize: 18, color: '#000', margin: 19, fontFamily: FONT}
  }],
  yAxis: {
    type: 'value', min: 280, max: 930, interval: 50,
    axisLine: {show: true, lineStyle: {color: '#000', width: 2}},
    axisTick: {show: true, length: 7, lineStyle: {color: '#000', width: 1.5}},
    axisLabel: {fontSize: 18, color: '#000', margin: 20, fontFamily: FONT, showMinLabel: true, showMaxLabel: true},
    splitLine: {show: true, lineStyle: {color: '#BFBFBF', width: 2, type: [7, 4]}}
  },
  graphic: graphics,
  series: seriesNames.map((n, i) => ({
    name: n, type: 'line', xAxisIndex: 0, data: seriesData[i], showSymbol: false, symbol: 'none',
    color: seriesColors[i], lineStyle: {width: 4, color: seriesColors[i]},
    connectNulls: false, z: 2
  }))
};
chart.setOption(option);
</script>
</body></html>
